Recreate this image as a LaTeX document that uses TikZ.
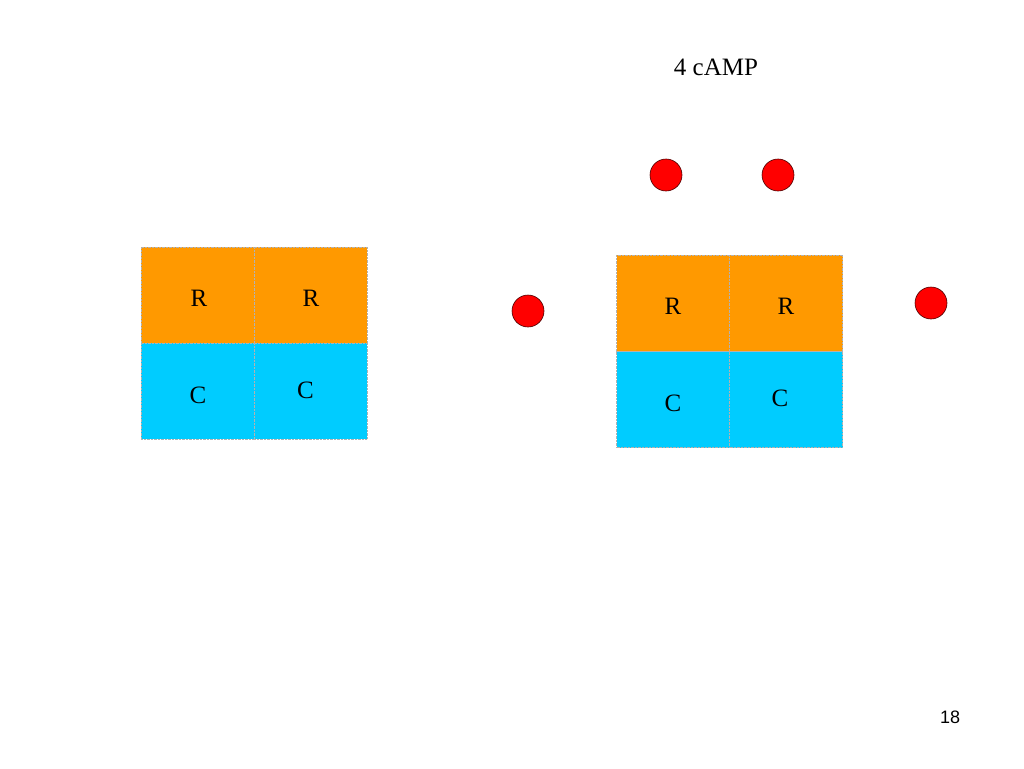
\documentclass[tikz,border=0pt]{standalone}
\usepackage{fontspec}
\setmainfont{Liberation Serif}
\setsansfont{Liberation Sans}
\usetikzlibrary{positioning}

\tikzset{
  unit/.style={minimum width=113pt, minimum height=96pt, inner sep=0pt,
               draw=black!30, densely dotted, line width=0.4pt},
  reg/.style={unit, fill={rgb,255:red,255;green,153;blue,0}},
  cat/.style={unit, fill={rgb,255:red,0;green,204;blue,255}},
  sub/.style={font=\fontsize{25}{30}\selectfont, inner sep=0pt},
  camp/.style={circle, minimum size=32pt, inner sep=0pt, fill=red, draw=black!70!red, line width=0.6pt}
}

\begin{document}
\begin{tikzpicture}[x=1pt, y=-1pt]
		\useasboundingbox (0, 0) rectangle (1024, 768);
		
		% inactive holoenzyme
		\path (197.5, 295)  node[reg] (r1)  {}
		      (310.5, 295)  node[reg] (r2)  {}
		      (197.5, 391)  node[cat] (c1)  {}
		      (310.5, 391)  node[cat] (c2)  {};
		
		% holoenzyme with cAMP
		\path (673, 303)    node[reg] (r3)  {}
		      (786, 303)    node[reg] (r4)  {}
		      (673, 399.5)  node[cat] (c3)  {}
		      (786, 399.5)  node[cat] (c4)  {};
		
		% subunit letters
		\path ([shift={(1.5, 3)}]r1.center)   node[sub] (tr1) {R}
		      ([shift={(0.5, 3)}]r2.center)   node[sub] (tr2) {R}
		      ([shift={(0.5, 4)}]c1.center)   node[sub] (tc1) {C}
		      ([shift={(-5, -1)}]c2.center)   node[sub] (tc2) {C}
		      ([shift={(0, 3)}]r3.center)     node[sub] (tr3) {R}
		      ([shift={(0, 3)}]r4.center)     node[sub] (tr4) {R}
		      ([shift={(0, 3.5)}]c3.center)   node[sub] (tc3) {C}
		      ([shift={(-6, -1.5)}]c4.center) node[sub] (tc4) {C};
		
		\path (666, 175)    node[camp] (a1) {}
		      (778, 175)    node[camp] (a2) {}
		      (528, 311)    node[camp] (a3) {}
		      (931, 303)    node[camp] (a4) {};
		
		\path (716, 67)     node[font=\fontsize{25}{30}\selectfont] (title) {4 cAMP}
		      (950, 717)    node[font=\sffamily\fontsize{18}{22}\selectfont] (page) {18};
	\end{tikzpicture}
\end{document}
